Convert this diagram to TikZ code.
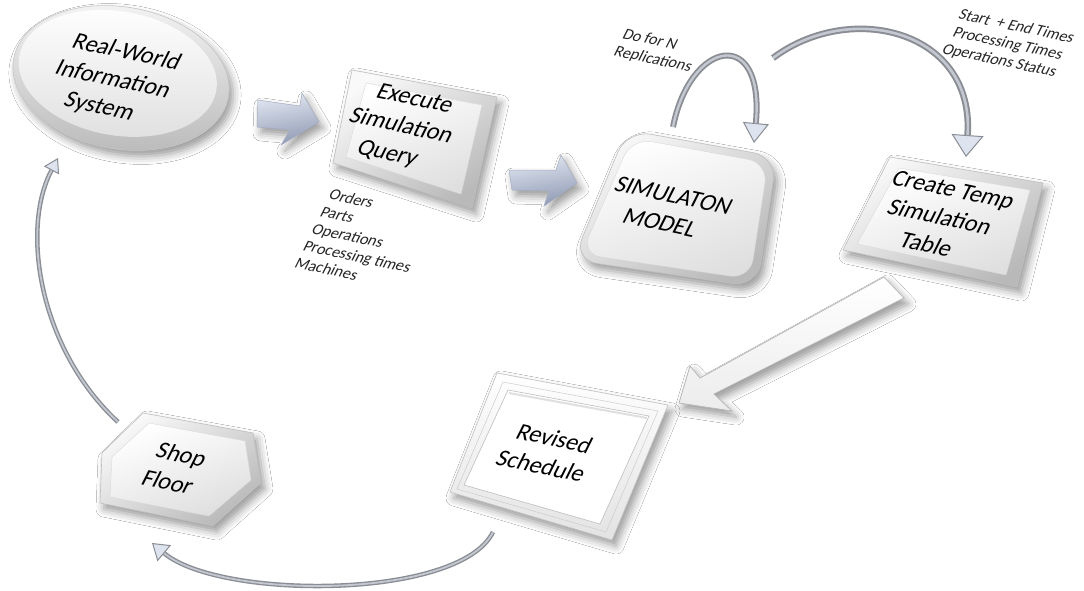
\documentclass[tikz,border=0pt]{standalone}
\usepackage{fontspec}
\setmainfont{Carlito}
\usetikzlibrary{arrows.meta,shadows.blur}

\definecolor{tipfill}{HTML}{DDE3EF}
\definecolor{tubeedge}{HTML}{8A8D94}
\definecolor{tubelight}{HTML}{C4C8D0}
\definecolor{steellight}{HTML}{E2E7F1}
\definecolor{steeldark}{HTML}{8E99B3}

\tikzset{
  softshadow/.style={blur shadow={shadow xshift=4pt, shadow yshift=-6pt, shadow blur radius=8pt, shadow opacity=40}},
  plate/.style={softshadow, draw=gray!50, line width=0.6pt, top color=gray!5, bottom color=gray!55, shading angle=35},
  face/.style={draw=gray!30, line width=0.4pt, top color=white, bottom color=gray!25, shading angle=20},
  label/.style={font=\fontsize{24}{29.5}\selectfont, align=center, rotate=-12, xslant=0.26, inner sep=0pt, text=black},
  note/.style={font=\fontsize{16}{18.5}\selectfont, align=left, rotate=-12, xslant=0.26, inner sep=0pt, text=black!85},
  tube/.style n args={3}{draw=tubeedge, line width=#1, -{Triangle[length=#2, width=#3, line width=1pt, fill=tipfill]}},
  tubecore/.style={draw=tubelight, line width=#1},
  blockarrow/.style={softshadow, draw=steeldark!80, line width=0.5pt, top color=steellight, bottom color=steeldark, shading angle=10},
  hollowarrow/.style={softshadow, draw=gray!55, line width=0.8pt, top color=white, bottom color=gray!15},
}

\begin{document}
\begin{tikzpicture}[x=1pt,y=-1pt]
\useasboundingbox (0,0) rectangle (1084,590);
\fill[white] (0,0) rectangle (1084,590);

% ---- shapes ----
% information system disc
\path[softshadow, draw=gray!45, line width=0.6pt, top color=gray!8, bottom color=gray!55, rotate around={-10:(121,78)}]
  (121,78) ellipse [x radius=109, y radius=71];
\path[top color=white, bottom color=gray!25, rotate around={-10:(121,78)}]
  (117,74) ellipse [x radius=100, y radius=62];

% query plate
\path[plate] (352,70) -- (497,97) -- (472,208) -- (333,163) -- cycle;
\path[face] (366,83) -- (482,105) -- (461,194) -- (346,157) -- cycle;

% simulation model plate
\path[plate, rounded corners=24pt] (627,130) -- (777,157) -- (757,287) -- (573,260) -- cycle;
\path[face, rounded corners=20pt] (632,138) -- (768,163) -- (750,279) -- (581,254) -- cycle;

% temp table plate
\path[plate] (890,157) -- (1043,183) -- (1017,287) -- (843,250) -- cycle;
\path[face] (899,168) -- (1030,190) -- (1006,275) -- (857,244) -- cycle;

% revised schedule frame: white backing with shadow, then the moulding band
\path[softshadow, fill=white] (497,373) -- (668,405) -- (612,540) -- (450,492) -- cycle;
\path[draw=gray!50, line width=0.6pt, top color=white, bottom color=gray!22, even odd rule]
  (497,373) -- (668,405) -- (612,540) -- (450,492) -- cycle
  (508,390) -- (649,416) -- (600,524) -- (464,485) -- cycle;
\draw[gray!40, line width=0.5pt] (503,382) -- (658,411) -- (606,532) -- (457,489) -- cycle;
\draw[gray!25, line width=2pt] (509,393) -- (647,418);

% shop floor plate
\path[plate] (143,413) -- (253,433) -- (261,483) -- (213,526) -- (100,503) -- (102,453) -- cycle;
\path[face] (149,423) -- (245,441) -- (251,480) -- (209,516) -- (110,497) -- (112,457) -- cycle;

% ---- block arrows ----
\path[blockarrow] (258,100) -- (300,106) -- (302,93) -- (319,122) -- (281,145) -- (290,130) -- (257,127) -- cycle;
\path[blockarrow] (509,170) -- (556,170) -- (561,155) -- (577,183) -- (544,206) -- (549,191) -- (512,190) -- cycle;
\path[hollowarrow] (884,277) -- (904,298) -- (714,394) -- (732,411) -- (679,403) -- (690,366) -- (700,378) -- cycle;

% ---- curved connectors ----
\coordinate (loopA) at (673,127);
\coordinate (loopB) at (754,143);
\coordinate (arcA) at (773,58);
\coordinate (arcB) at (966,157);
\coordinate (backA) at (118,422);
\coordinate (backB) at (58,158);
\coordinate (botA) at (493,532);
\coordinate (botB) at (152,543);

\draw[tube={6pt}{20pt}{26pt}] (loopA) .. controls (690,40) and (765,25) .. (loopB);
\draw[tubecore=2.4pt, shorten >=20pt] (loopA) .. controls (690,40) and (765,25) .. (loopB);

\draw[tube={6.5pt}{22pt}{32pt}] (arcA) .. controls (850,0) and (975,30) .. (arcB);
\draw[tubecore=2.6pt, shorten >=22pt] (arcA) .. controls (850,0) and (975,30) .. (arcB);

\draw[tube={4.5pt}{14pt}{17pt}] (backA) .. controls (40,350) and (20,230) .. (backB);
\draw[tubecore=1.8pt, shorten >=14pt] (backA) .. controls (40,350) and (20,230) .. (backB);

\draw[tube={4.5pt}{16pt}{21pt}] (botA) .. controls (460,600) and (220,600) .. (botB);
\draw[tubecore=1.8pt, shorten >=16pt] (botA) .. controls (460,600) and (220,600) .. (botB);

% ---- texts ----
\node[label] (rw) at (113,80) {Real-World\\Information\\System};
\node[label] (query) at (401,127) {Execute\\Simulation\\Query};
\node[label] (sim) at (667,209) {SIMULATON\\MODEL};
\node[label] (temp) at (940,217) {Create Temp\\Simulation\\Table};
\node[label] (sched) at (548,452) {Revised\\Schedule};
\node[label] (shop) at (175,468) {Shop\\Floor};
\node[note, anchor=west] (inputs) at (313,228) {Orders\\Parts\\Operations\\Processing times\\Machines};
\node[note, anchor=west] (reps) at (619,43) {Do for N\\Replications};
\node[note, align=center] (outputs) at (1008,44) {Start\ \ + End Times\\Processing Times\\Operations Status};
\end{tikzpicture}
\end{document}
